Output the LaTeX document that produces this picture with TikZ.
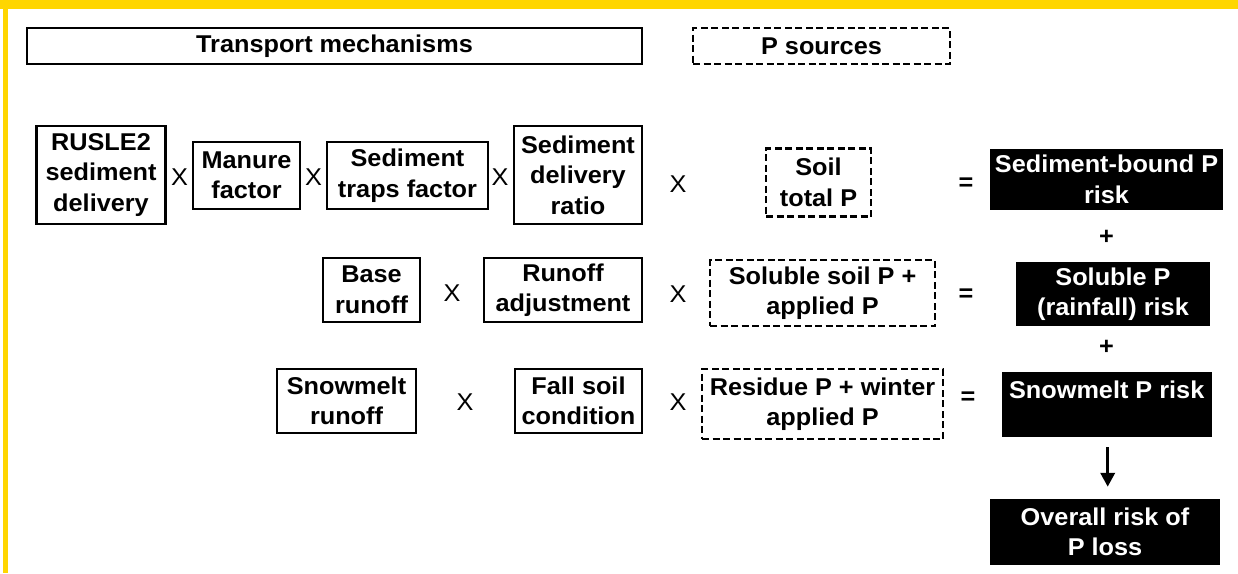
\documentclass[tikz,border=0pt]{standalone}
\usepackage{fontspec}
\setmainfont{Liberation Sans}[FakeStretch=1.04]
\usetikzlibrary{arrows.meta}
\definecolor{gold}{RGB}{255,214,0}
\begin{document}
\begin{tikzpicture}[x=1pt,y=-1pt,
  every node/.style={font=\fontsize{24.3}{30.5}\selectfont\bfseries, align=center, inner sep=0pt},
  sbox/.style={draw, line width=2.2pt},
  dbox/.style={draw, line width=2.5pt, dash pattern=on 7pt off 3.5pt},
  bbox/.style={fill=black, text=white},
  op/.style={font=\fontsize{24.3}{30.5}\selectfont},
  bop/.style={font=\fontsize{24.3}{30.5}\selectfont\bfseries}]
\useasboundingbox (0,0) rectangle (1238,573);
\fill[gold] (0,0) rectangle (1238,9);
\fill[gold] (3,0) rectangle (8,573);

% headers
\node[sbox, minimum width=615pt, minimum height=36pt] (tm) at (334.5,46) {Transport mechanisms};
\node[dbox, minimum width=257pt, minimum height=36pt] (ps) at (821.5,46) {P sources};

% row 1
\node[sbox, minimum width=129pt, minimum height=98pt] (rusle) at (101,175) {RUSLE2\\sediment\\delivery};
\node[op] (x11) at (179.5,177) {X};
\node[sbox, minimum width=107pt, minimum height=67pt] (manure) at (246.5,175.5) {Manure\\factor};
\node[op] (x12) at (313.5,177) {X};
\node[sbox, minimum width=161pt, minimum height=67pt] (traps) at (407.5,175.5) {Sediment\\traps factor};
\node[op] (x13) at (500,177) {X};
\node[sbox, minimum width=128pt, minimum height=98pt] (sdr) at (578,175) {Sediment\\delivery\\ratio};
\node[op] (x14) at (678,184) {X};
\node[dbox, minimum width=105pt, minimum height=68pt] (stp) at (818.5,182.5) {Soil\\total P};
\node[bop] (eq1) at (966,184) {=};
\node[bbox, minimum width=233pt, minimum height=61pt] (sbp) at (1106.5,179.5) {Sediment-bound P\\risk};
\node[bop] (pl1) at (1106.5,237) {+};

% row 2
\node[sbox, minimum width=97pt, minimum height=64pt] (base) at (371.5,290) {Base\\runoff};
\node[op] (x21) at (452,293) {X};
\node[sbox, minimum width=158pt, minimum height=64pt] (radj) at (563,290) {Runoff\\adjustment};
\node[op] (x22) at (678,294) {X};
\node[dbox, minimum width=225pt, minimum height=66pt] (sol) at (822.5,293) {Soluble soil P +\\applied P};
\node[bop] (eq2) at (966,295) {=};
\node[bbox, minimum width=194pt, minimum height=64pt] (solr) at (1113,294) {Soluble P\\(rainfall) risk};
\node[bop] (pl2) at (1106.5,347) {+};

% row 3
\node[sbox, minimum width=139pt, minimum height=64pt] (snow) at (346.5,401) {Snowmelt\\runoff};
\node[op] (x31) at (465,402) {X};
\node[sbox, minimum width=127pt, minimum height=64pt] (fall) at (578.5,401) {Fall soil\\condition};
\node[op] (x32) at (678,402) {X};
\node[dbox, minimum width=241pt, minimum height=70pt] (res) at (822.5,404) {Residue P + winter\\applied P};
\node[bop] (eq3) at (968,398) {=};
\node[bbox, minimum width=210pt, minimum height=65pt] (snowr) at (1106.7,404.5) {Snowmelt P risk\\\mbox{}};

% result
\node[bbox, minimum width=230pt, minimum height=66pt] (overall) at (1105,532) {Overall risk of\\P loss};
\draw[line width=3.5pt, -{Triangle[length=14pt,width=14pt]}, shorten <=10pt, shorten >=12pt]
  ([xshift=1pt]snowr.south) -- ([xshift=1pt]snowr.south |- overall.north);
\end{tikzpicture}
\end{document}
